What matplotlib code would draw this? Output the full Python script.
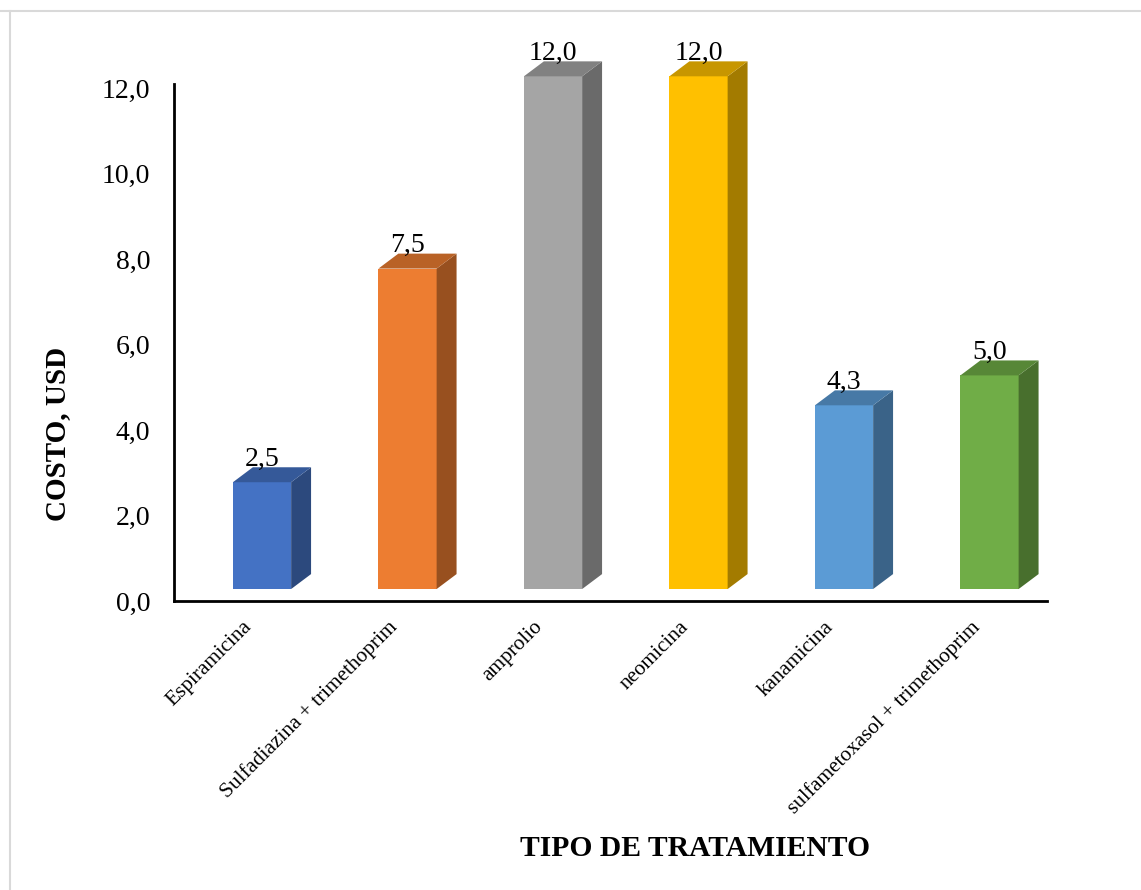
import numpy as np
import matplotlib
matplotlib.use("Agg")
import matplotlib.pyplot as plt
from matplotlib.patches import Polygon
from matplotlib.lines import Line2D
from matplotlib.colors import to_rgb

tratamientos = ["Espiramicina", "Sulfadiazina + trimethoprim", "amprolio",
                "neomicina", "kanamicina", "sulfametoxasol + trimethoprim"]
costos = [2.5, 7.5, 12.0, 12.0, 4.3, 5.0]
colores = ["#4472C4", "#ED7D31", "#A5A5A5", "#FFC000", "#5B9BD5", "#70AD47"]
yticks = [0, 2, 4, 6, 8, 10, 12]

plt.rcParams['font.family'] = ['Liberation Serif', 'DejaVu Serif']

def shade(c, f):
    r, g, b = to_rgb(c)
    return (r * f, g * f, b * f)

fig = plt.figure(figsize=(11.41, 8.90), dpi=100)
ax = fig.add_axes([174 / 1141, 1 - 601 / 890, 873 / 1141, 517 / 890])

x = np.arange(len(costos))
# pseudo 3D geometry (data units)
off = 0.105      # front face shift from category centre
w = 0.4          # front face width
dx, dy = 0.137, 0.35   # depth
base = 0.28      # floor lift

ax.bar(x + off, costos, width=w, bottom=base, color=colores, clip_on=False, zorder=3)
for xi, v, c in zip(x, costos, colores):
    l, r = xi + off - w / 2, xi + off + w / 2
    top = base + v
    side = Polygon([(r, base), (r + dx, base + dy), (r + dx, top + dy), (r, top)],
                   closed=True, facecolor=shade(c, 0.64), edgecolor='none',
                   clip_on=False, zorder=3)
    cap = Polygon([(l, top), (r, top), (r + dx, top + dy), (l + dx, top + dy)],
                  closed=True, facecolor=shade(c, 0.78), edgecolor='none',
                  clip_on=False, zorder=3)
    ax.add_patch(side)
    ax.add_patch(cap)
    ax.text(xi + off, top + dy + 0.03, f"{v:.1f}".replace('.', ','),
            ha='center', va='baseline', fontsize=20, zorder=4)

ax.set_xlim(-0.5, 5.5)
ax.set_ylim(0, 12.1)
ax.set_yticks(yticks)
ax.set_yticklabels([f"{t:.1f}".replace('.', ',') for t in yticks], fontsize=20)
ax.set_xticks(x - 0.03)
ax.set_xticklabels(tratamientos, rotation=45, rotation_mode='anchor',
                   ha='right', va='top', fontsize=15.3)
ax.tick_params(axis='y', length=0, pad=17)
ax.tick_params(axis='x', length=0, pad=12)

for s in ['top', 'right']:
    ax.spines[s].set_visible(False)
for s in ['left', 'bottom']:
    ax.spines[s].set_linewidth(2)
    ax.spines[s].set_color('black')

ax.set_ylabel("COSTO, USD", fontsize=21, fontweight='bold', va='center')
ax.yaxis.set_label_coords(-0.133, 0.323)
ax.set_xlabel("TIPO DE TRATAMIENTO", fontsize=21.3, fontweight='bold', va='center')
ax.xaxis.set_label_coords(0.597, -0.478)

# light frame lines (top and left)
fig.add_artist(Line2D([0, 1], [1 - 11 / 890, 1 - 11 / 890], color='#d9d9d9', lw=1.5,
                      transform=fig.transFigure))
fig.add_artist(Line2D([10 / 1141, 10 / 1141], [0, 1 - 11 / 890], color='#d9d9d9', lw=1.5,
                      transform=fig.transFigure))

fig.savefig("out.png", dpi=100)
